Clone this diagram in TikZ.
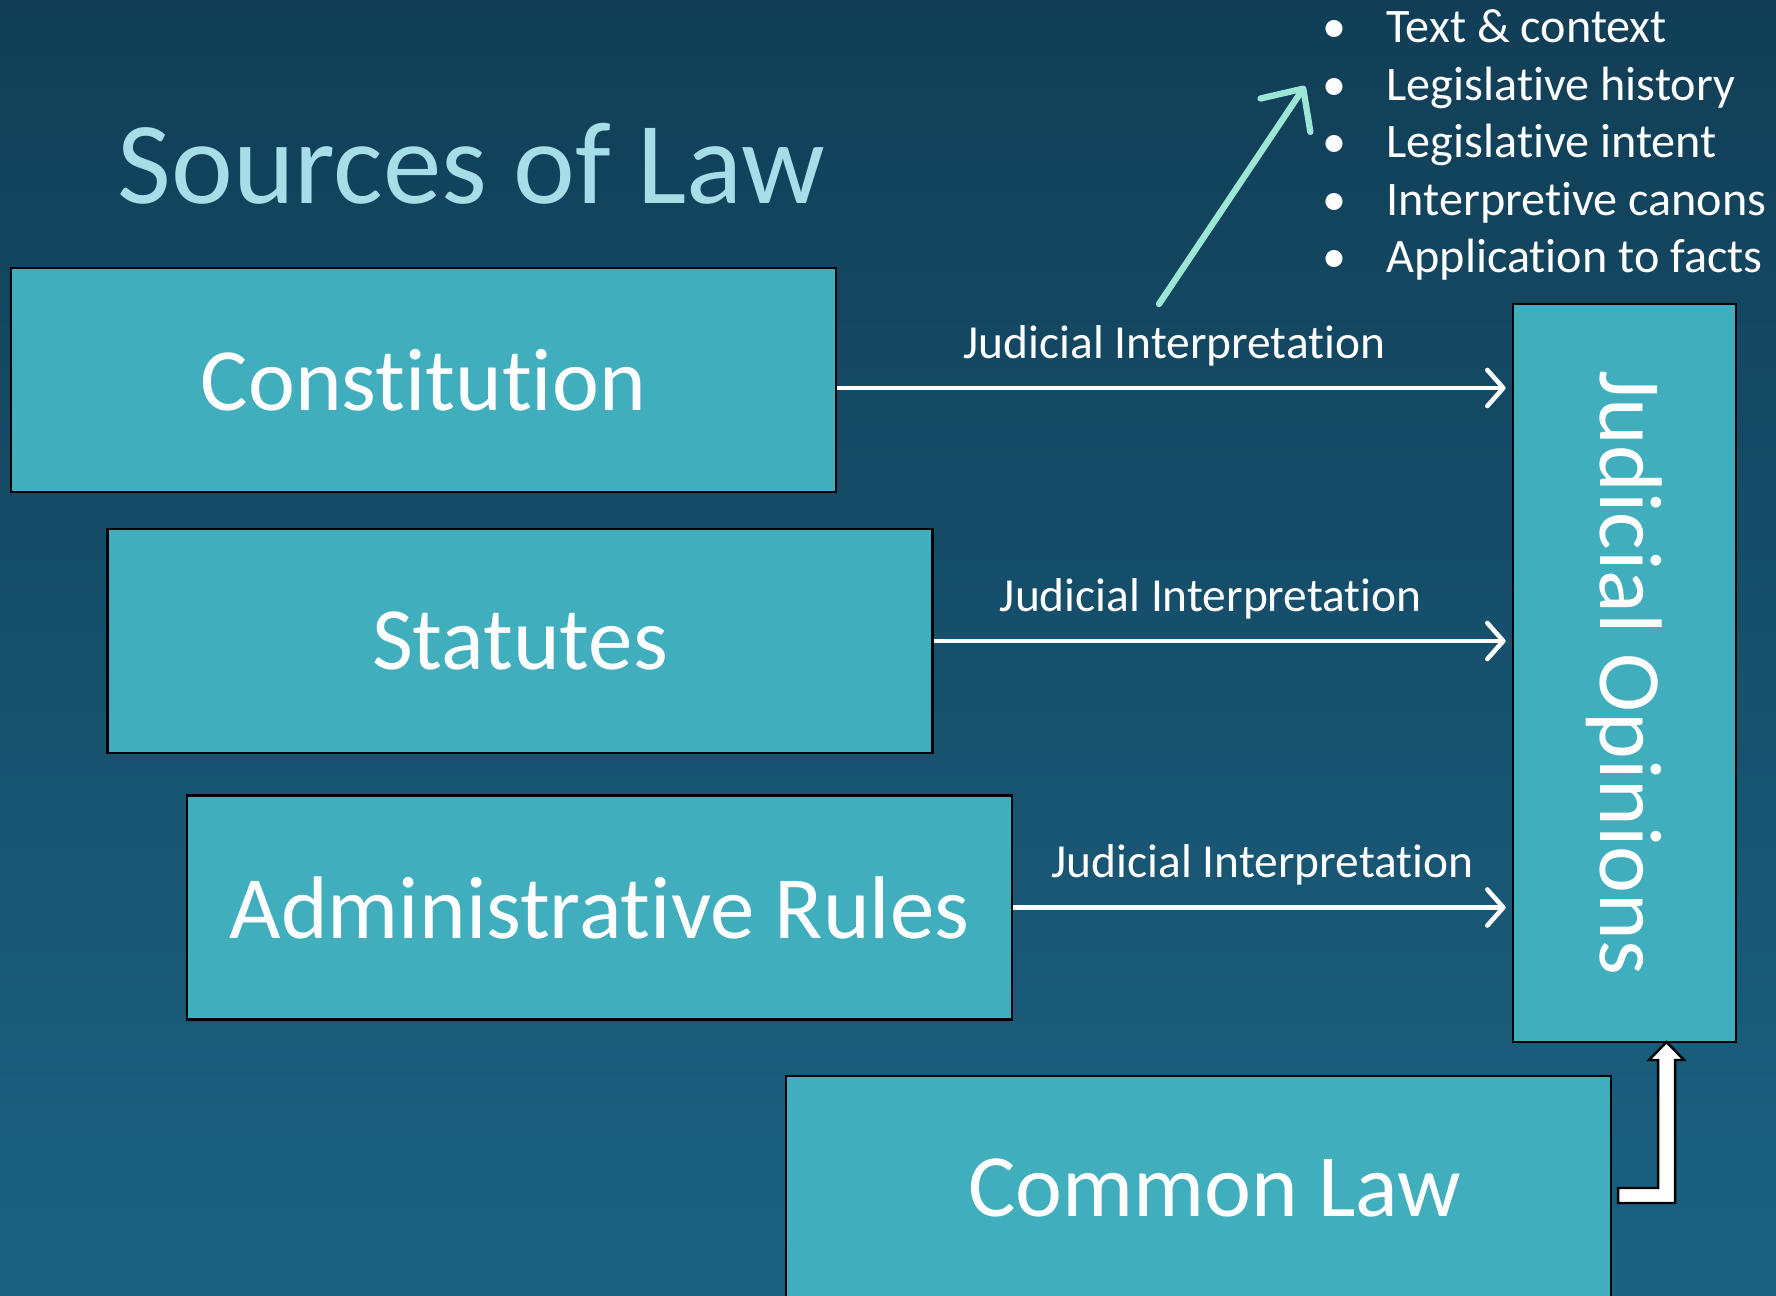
\documentclass[tikz,border=0pt]{standalone}
\usepackage{fontspec}
\setmainfont{Carlito}[Ligatures={CommonOff,ContextualOff,RareOff}]
\usetikzlibrary{arrows.meta}
\definecolor{bgtop}{HTML}{113E56}
\definecolor{bgbot}{HTML}{1B6282}
\definecolor{boxfill}{HTML}{41AEBD}
\definecolor{titleblue}{HTML}{A6DDE7}
\definecolor{mint}{HTML}{9BE6D5}

\begin{document}
\begin{tikzpicture}[
    lawbox/.style={draw=black, line width=0.8pt, fill=boxfill, text=white, minimum width=8.25cm, minimum height=2.24cm, inner sep=0pt, font=\fontsize{25.3}{30}\selectfont},
    jarrow/.style={draw=white, line width=1.3pt, -{Straight Barb[length=0.16cm, width=0.36cm, round]}, shorten >=0.06cm},
    jlabel/.style={text=white, font=\fontsize{13.5}{16}\selectfont, anchor=base, yshift=0.3cm, inner sep=0pt},
    bullettext/.style={text=white, font=\fontsize{13.7}{16}\selectfont, anchor=base west, inner sep=0pt}
]
    \useasboundingbox (0,0) rectangle (17.76,12.95);
    \clip (0,0) rectangle (17.76,12.95);
    \shade[top color=bgtop, bottom color=bgbot] (0,0) rectangle (17.76,12.95);
    %title
    \node[anchor=base west, text=titleblue, font=\fontsize{33.3}{40}\selectfont, inner sep=0pt] (title) at (1.17,10.91) {Sources of Law};
    %sources
    \node[lawbox] (con) at (4.235,9.15) {Constitution};
    \node[lawbox] (sta) at (5.20,6.54) {Statutes};
    \node[lawbox] (adm) at (5.995,3.875) {Administrative Rules};
    \node[lawbox] (cl) at (11.985,1.07) {\hspace*{0.32cm}Common Law};
    \node[lawbox, minimum width=2.23cm, minimum height=7.38cm] (jo) at (16.245,6.22) {\rotatebox{-90}{Judicial Opinions}};
    %interpretation
    \coordinate (constart) at ([yshift=-0.08cm]con.east);
    \draw[jarrow] (constart) -- (constart -| jo.west) node[jlabel, midway] (lab1) {Judicial Interpretation};
    \draw[jarrow] (sta.east) -- (sta.east -| jo.west) node[jlabel, midway, xshift=-0.12cm] (lab2) {Judicial Interpretation};
    \draw[jarrow] (adm.east) -- (adm.east -| jo.west) node[jlabel, midway] (lab3) {Judicial Interpretation};
    %common law
    \draw[black, line width=0.7pt, fill=white] (16.18,1.07) -- (16.58,1.07) -- (16.58,2.35) -- (16.49,2.35) -- (16.665,2.53) -- (16.84,2.35) -- (16.75,2.35) -- (16.75,0.92) -- (16.18,0.92) -- cycle;
    %methods
    \coordinate (gtail) at (11.59,9.91);
    \coordinate (gtip) at (13.05,12.09);
    \draw[mint, line width=1.8pt, line cap=round, -{Straight Barb[length=0.32cm, width=0.6cm, round]}] (gtail) -- (gtip);
    \foreach \txt [count=\i] in {Text \& context, Legislative history, Legislative intent, Interpretive canons, Application to facts} {
        \node[bullettext] (dot\i) at (13.22,{12.52-0.575*(\i-1)}) {\textbullet};
        \node[bullettext] (item\i) at (13.86,{12.52-0.575*(\i-1)}) {\txt};
    }
\end{tikzpicture}
\end{document}
